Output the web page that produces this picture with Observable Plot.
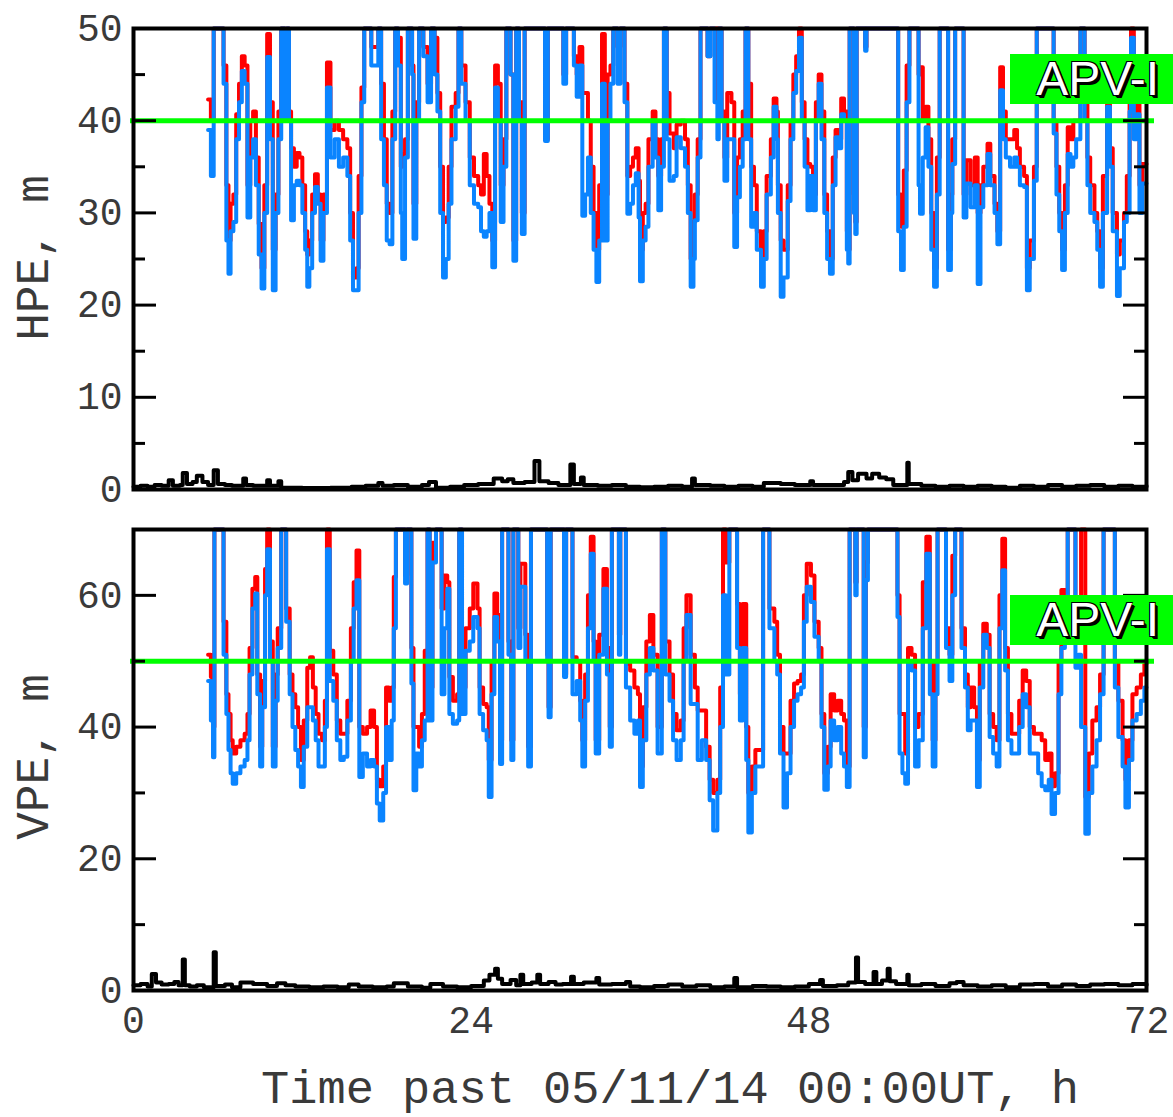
<!DOCTYPE html>
<html><head><meta charset="utf-8">
<script src="https://cdn.jsdelivr.net/npm/d3@7"></script>
<script src="https://cdn.jsdelivr.net/npm/@observablehq/plot@0.6"></script>
<style>
body{margin:0;background:#fff;}
#wrap{position:relative;width:1173px;height:1117px;overflow:hidden;background:#fff;}
.panel{position:absolute;left:0;}
.ylab{position:absolute;font-family:"Liberation Mono",monospace;font-size:46px;line-height:1;color:#3a3a3a;transform:translate(-50%,-50%) rotate(-90deg);white-space:nowrap;}
.xlab{position:absolute;font-family:"Liberation Mono",monospace;font-size:47px;line-height:1;color:#3a3a3a;transform:translate(-50%,-50%);white-space:nowrap;}
.apv{position:absolute;left:1010px;width:163px;height:50px;background:#00ff00;color:#fff;font-family:"Liberation Sans",Arial,sans-serif;font-size:48px;line-height:50px;text-align:right;padding-right:14px;box-sizing:border-box;text-shadow:-1px -1px 0 #000,1px -1px 0 #000,-1px 1px 0 #000,2px 2px 0 #000,3px 3px 0 #000;}
</style></head>
<body><div id="wrap"></div>
<script>
// ---- data: time (h), blue series, red series ----
const xTicks = [0, 24, 48, 72];
const hpeTicks = [0, 10, 20, 30, 40, 50];
const hpeMinor = [5, 15, 25, 35, 45];
const vpeTicks = [0, 20, 40, 60];
const vpeMinor = [10, 30, 50, 70];
const hpeLimit = 40;
const vpeLimit = 50;
const limitName = "APV-I";
const yLabels = ["HPE, m", "VPE, m"];
const xLabel = "Time past 05/11/14 00:00UT, h";

// HPE: [t, blue, red]
const hpeRows = [
[5.3,39,42.3],[5.5,34,40],[5.7,60,60],[6.4,44,46],[6.6,27,33],[6.75,23.4,27],[6.9,28,31],[7.1,29,32],
[7.3,38,40.7],[7.5,42,44],[7.7,45.4,47],[7.9,44,46],[8.1,29.5,33],[8.3,36,40],[8.5,38,41],[8.7,33,36],
[8.9,25.5,28.8],[9.1,21.8,24],[9.3,30,33],[9.5,46.9,49.4],[9.7,38,42],[9.9,21.6,26],[10.1,30,32],[10.3,38,41],
[10.5,60,60],[10.75,40,42],[10.9,60,60],[11.05,40,41],[11.2,29.2,37],[11.4,33,35],[11.6,33.5,36.5],[11.8,33,36],
[12.0,30,33],[12.2,26,28],[12.35,22,25.5],[12.5,24,27],[12.7,30,32],[12.9,32.8,34.2],[13.1,31,32],[13.3,24.8,27],
[13.5,30,32],[13.75,43.6,46.3],[14.0,36,39],[14.3,38,40],[14.6,35,39],[14.9,36,38],[15.2,34,37],[15.4,27,30],
[15.6,21.6,23],[15.85,21.6,24],[16.0,30,34],[16.2,42,43.6],[16.4,60,60],[16.9,46,48],[17.2,46,48],[17.4,60,60],
[17.6,38,44],[17.8,33,38],[18.0,27,31],[18.2,26.6,30],[18.4,38,41],[18.6,60,60],[18.8,46,49],[19.0,30,35],
[19.1,25,36.4],[19.3,36,38],[19.5,60,60],[19.8,45,46],[19.9,27.2,31],[20.1,40,42],[20.3,60,60],[20.6,47,48],
[20.9,42,44],[21.15,60,60],[21.4,45,49],[21.6,41,43],[21.8,30,35],[22.0,23,29],[22.2,25,29.5],[22.4,31,35],
[22.6,38,41.5],[22.9,41.5,43],[23.1,60,60],[23.3,44,46],[23.6,40,42],[23.9,33,36],[24.2,31,34],[24.5,30.6,33],
[24.7,28,32],[24.9,27.4,36.4],[25.1,28,34],[25.3,30,31],[25.5,24.1,27],[25.7,43.6,46],[25.9,40,44],[26.1,29,33],
[26.3,35,38],[26.5,60,60],[26.8,45,45],[27.0,24.8,27],[27.2,60,60],[27.4,40,42],[27.6,27.7,30],[27.8,60,60],
[29.25,37.8,38],[29.45,60,60],[30.55,44,45],[30.75,60,60],[31.3,46,47],[31.5,42.6,45],[31.7,46,48],[31.9,29.7,43],
[32.1,32,43],[32.3,36,40],[32.5,30,35],[32.7,26,30],[32.9,22.5,26],[33.1,27,33],[33.3,44,49.4],[33.5,27,32],
[33.7,40,45],[33.9,44,46],[34.1,60,60],[34.4,44,48],[34.6,60,60],[34.9,42,44],[35.1,29.9,34],[35.3,31,35],
[35.5,33,36],[35.7,34.3,37],[35.9,29.5,33.5],[36.0,22.6,26],[36.2,27,30],[36.4,28.5,31],[36.6,35,38],[36.9,40,41],
[37.1,36,38],[37.3,30.3,34],[37.5,35,38],[37.7,60,60],[37.9,38,43],[38.1,33.5,38.6],[38.4,34,37],[38.6,38.2,39.6],
[38.9,37,40],[39.2,35,38],[39.4,30,33],[39.6,22,25],[39.8,25,29],[39.9,29.2,32],[40.1,36,38],[40.3,60,60],
[40.8,47,47],[41.0,60,60],[41.3,42,60],[41.5,38,42],[41.6,60,60],[41.8,40,41],[42.0,33.5,36],[42.2,38,43],
[42.5,38,42],[42.7,26.3,30],[42.9,31.7,36],[43.1,35,38],[43.3,38,41],[43.5,60,60],[43.7,38,44],[43.9,28.5,35],
[44.1,30,33],[44.3,26,28],[44.6,22,25],[44.8,25,28],[45.0,32,34],[45.3,36,38],[45.5,41.5,42.4],[45.7,38,41],
[45.8,30,33],[46.0,20.9,27],[46.2,23,26],[46.5,31.3,33],[46.7,38,40],[46.9,43,45],[47.1,45.4,47],[47.3,49,50.5],
[47.5,40,42],[47.7,35,38],[47.9,30.3,35.3],[48.1,34,35],[48.3,30.3,32],[48.5,40,42],[48.7,44,45],[48.9,38,41],
[49.1,30,32],[49.3,25,28],[49.5,23.4,25],[49.7,33,36],[49.9,38.2,39],[50.1,37,38],[50.3,40.7,42.4],[50.5,40,41],
[50.7,26,28],[50.8,24.5,26],[50.9,60,60],[51.2,30,32],[51.3,27.7,29],[51.4,60,60],[52.0,47.6,48],[52.1,60,60],
[54.35,28,32],[54.55,23.8,28.5],[54.75,28.5,34.6],[54.95,42,46],[55.15,60,60],[55.8,33,45],[55.9,29.9,45.8],[56.1,36,40],
[56.3,39.3,41.5],[56.5,35,38],[56.7,26,30],[56.9,22,24],[57.1,32,36],[57.3,60,60],[57.9,23.8,26],[58.1,30,32],
[58.2,35.3,38],[58.4,60,60],[59.0,29.5,32],[59.2,33.2,35.7],[59.5,30.6,33],[59.8,33,36],[60.0,22.3,30],[60.2,30.6,33],
[60.4,33,35],[60.7,36.4,37.5],[60.9,33,34],[61.2,30,31],[61.4,26.6,28],[61.6,43.3,45.8],[61.8,38,41],[62.0,36,38],
[62.3,35,38],[62.6,36,39],[62.8,35,37],[63.0,33,35],[63.3,32.8,34],[63.5,21.6,24],[63.7,25,27],[64.0,33.5,35],
[64.2,60,60],[65.4,38.6,40],[65.6,32,35],[65.8,28,30],[66.0,23.8,26],[66.2,30,33],[66.4,36.4,39.3],[66.6,35,38],
[66.8,36,40],[67.0,38,40],[67.3,60,60],[67.6,40,42],[67.8,33,36],[68.0,30,33],[68.3,29,30],[68.5,26,28],
[68.7,22,24],[68.9,30,34],[69.2,41.5,43],[69.4,35,37],[69.6,28,30],[69.9,21,25.5],[70.1,24,27],[70.4,29,30],
[70.6,30,34],[70.8,41,43],[70.9,49,50],[71.1,38,40],[71.3,40.7,42],[71.5,30,33],[71.7,33.2,35.3],[72.0,33.2,35.3]
];

// HPE black: [t, value]
const hpeBlack = [
[0,0.3],[0.5,0.4],[1.0,0.3],[1.5,0.5],[2.0,0.4],[2.5,1.0],[2.8,0.4],[3.3,0.5],[3.5,1.8],[3.8,0.6],[4.2,0.8],
[4.5,1.5],[4.9,0.8],[5.3,0.5],[5.7,2.1],[6.0,0.6],[6.5,0.5],[7.0,0.4],[7.8,1.2],[8.0,0.5],[8.5,0.4],[9.5,1.0],
[9.7,0.4],[10.3,0.9],[10.5,0.2],[12,0.15],[14,0.2],[15.5,0.3],[16.5,0.4],[17.4,0.7],[17.7,0.4],[18.5,0.5],
[19.5,0.3],[20.5,0.5],[21.0,0.8],[21.5,0.2],[22.5,0.3],[23.5,0.5],[24.5,0.6],[25.6,1.2],[26.2,0.9],[26.6,1.1],
[27.0,0.7],[27.8,0.8],[28.5,3.1],[28.85,0.9],[29.5,0.7],[30.2,0.5],[31.05,2.7],[31.3,0.6],[31.8,1.3],[32.0,0.5],
[33,0.4],[34,0.5],[35,0.3],[36,0.25],[37,0.3],[38,0.4],[39.0,0.3],[39.7,1.2],[39.9,0.5],[41,0.4],[42,0.3],
[43,0.4],[44,0.3],[44.8,0.7],[46,0.6],[47,0.5],[48.1,0.9],[48.3,0.5],[49.5,0.5],[50.5,0.8],[50.8,1.9],[51.1,1.0],
[51.5,1.7],[52.1,1.2],[52.5,1.7],[53.0,1.3],[53.5,1.1],[54.0,0.5],[55.0,2.9],[55.1,0.6],[56,0.4],[57,0.3],
[58,0.4],[59,0.3],[60,0.4],[61,0.3],[62,0.2],[63,0.4],[64,0.3],[65,0.5],[66,0.3],[67,0.4],[68,0.5],[69,0.3],
[70,0.4],[71,0.3],[72,0.4]
];

// VPE: [t, blue, red]
const vpeRows = [
[5.3,47,51],[5.5,41,47.6],[5.65,35.4,40],[5.75,80,80],[6.4,51,56],[6.6,42,45],[6.75,36.5,42],[6.9,33,38],
[7.05,31.4,36],[7.3,33,37],[7.6,34,38],[7.9,35,39],[8.1,38,42],[8.25,48,52],[8.45,58,61],[8.65,60.3,62.8],
[8.8,45,48],[9.0,34,37],[9.15,43,47],[9.35,60,64],[9.5,67,80],[9.7,50,53],[9.9,34,37],[10.1,44,48],
[10.25,52,55],[10.5,80,80],[10.85,56,58],[11.1,45,48],[11.3,40,45],[11.5,36.5,43],[11.7,34,40],[11.9,30.9,35],
[12.1,37,41],[12.35,43,49],[12.55,43,50.6],[12.75,41,46],[12.95,38,42],[13.15,34,39],[13.4,34,38],[13.6,40,44],
[13.75,67,80],[13.95,47,51.6],[14.2,44,48],[14.45,38,41],[14.7,35,39],[14.95,35.5,39],[15.2,41,44],[15.45,50,55],
[15.65,58,62],[15.85,62.3,66.8],[16.05,32.4,40],[16.3,36,39],[16.6,34,40],[16.85,35,42.5],[17.1,34,40],[17.3,28.4,32],
[17.5,25.8,31],[17.75,30,34],[17.95,40,46],[18.15,35,44],[18.35,41,46],[18.5,55,62.8],[18.65,80,80],[19.3,61.8,63],
[19.45,80,80],[19.75,46.6,52],[19.9,30.4,40],[20.1,36,40],[20.3,34,37],[20.5,38,42],[20.7,41,51.6],[20.9,80,80],
[21.05,41,46],[21.25,65,68],[21.5,80,80],[21.9,45,58],[22.1,55,63],[22.3,61,62],[22.45,42,47.6],[22.7,40.5,44],
[23.0,41,45],[23.15,80,80],[23.35,42,46],[23.6,51.6,55],[23.9,53,58],[24.15,56.7,61.8],[24.45,55,58],[24.6,42,46],
[24.85,39.5,43.5],[25.1,38,43],[25.25,29.4,35],[25.45,45,50],[25.65,56.7,60.3],[25.85,53,57],[26.05,34.4,38],[26.2,80,80],
[26.65,51,53],[26.85,35,38],[27.0,80,80],[27.35,52,55],[27.5,61.3,64.8],[27.85,50,54],[28.05,34,37],[28.25,80,80],
[29.4,50,51],[29.5,41.5,43],[29.65,80,80],[30.6,47.6,48],[30.75,80,80],[31.2,45,50.6],[31.5,47,50],[31.75,41,44],
[31.9,34,38],[32.1,44,48],[32.3,55,60],[32.5,66.3,68.9],[32.7,50,53],[32.85,36,38],[33.1,51,54],[33.4,61,64],
[33.65,48,52],[33.85,37,40],[34.0,80,80],[34.5,51,54],[34.6,80,80],[35.0,46,49.6],[35.3,41,48.6],[35.6,39,46],
[35.85,41,45],[36.0,30.9,34],[36.2,38,43],[36.45,48,53],[36.7,52,57],[36.95,48.6,51],[37.25,36,40],[37.55,80,80],
[37.8,48,53],[38.1,44,48],[38.35,38,42],[38.6,35,39.5],[38.9,38,41],[39.1,50,55],[39.3,57,60],[39.6,43.5,51],
[39.9,43.5,46],[40.1,35,42.5],[40.4,38,42.5],[40.7,35,37],[40.95,28.9,32],[41.2,24.3,30],[41.5,30,32],[41.7,40,46],
[41.9,60,80],[42.1,48,65],[42.35,80,80],[42.9,52,58.7],[43.1,41,45],[43.3,52,58.7],[43.55,35,40],[43.7,24,30],
[43.95,30,34],[44.2,34,36.5],[44.5,34,36.5],[44.75,80,80],[45.2,55,58],[45.55,50,56],[45.75,48,51],[45.95,36,40],
[46.2,27.8,36],[46.45,33,36],[46.7,40,44],[46.95,44,46.6],[47.2,45,47],[47.45,46,48],[47.65,56,60],[47.85,61.3,64.8],
[48.15,59,63],[48.4,53.7,56],[48.7,50,52],[48.9,40,42],[49.1,30.5,33],[49.35,34,37],[49.55,41,45],[49.8,38,42.5],
[50.05,40,44],[50.3,36,42],[50.5,34,41],[50.7,30.9,34],[50.9,80,80],[51.3,60,62],[51.4,80,80],[51.9,35.4,40],
[52.05,62.3,65],[52.2,80,80],[54.3,56.7,60],[54.45,36,42],[54.65,33,42],[54.85,31.4,36],[55.05,50,52],[55.3,48.6,51],
[55.55,34,40],[55.8,38,42],[56.1,55,62],[56.35,66.3,68.9],[56.6,45,50],[56.8,34,38],[57.0,45,50],[57.15,80,80],
[57.75,52,55],[58.0,47,51],[58.2,60,66],[58.4,80,80],[58.85,52,55],[59.1,46,48],[59.3,39.5,43],[59.5,41,46],
[59.75,41,43],[59.95,30.9,35],[60.15,46,50],[60.4,54,55.7],[60.65,52,54],[60.85,38.5,42],[61.1,36,40],[61.35,34,38],
[61.55,55,60],[61.75,63.8,68.6],[61.95,48.6,52],[62.15,38,42],[62.4,36,39],[62.7,36,39],[62.95,40,44],[63.2,45,48.6],
[63.45,43,47],[63.7,36,40],[64.0,36,39],[64.3,33,39],[64.55,31,38],[64.8,30.4,35],[65.05,32,36],[65.25,26.8,31],
[65.5,30,33],[65.75,45,50],[65.95,52,60.8],[66.2,55,58],[66.4,80,80],[66.95,49,55],[67.15,51,54],[67.35,40,80],
[67.65,23.8,29.4],[67.9,30,36],[68.15,34,41],[68.45,38,43],[68.7,45,48],[68.95,80,80],[69.75,46,50],[70.0,38.5,44],
[70.3,34,38],[70.5,27.8,32],[70.75,35,38],[71.0,41,45],[71.3,42,46],[71.6,44,48],[71.85,46,49.6],[72.0,46,49.6]
];

// VPE black: [t, value]
const vpeBlack = [
[0,0.8],[0.5,1.0],[1.0,0.6],[1.3,2.5],[1.6,1.2],[2.0,0.9],[2.5,1.0],[2.9,1.3],[3.2,0.8],[3.5,4.7],[3.65,0.8],
[4.0,0.6],[4.5,0.8],[5.0,0.5],[5.7,5.8],[5.85,0.7],[6.5,0.9],[7.0,0.5],[7.6,1.2],[8.5,1.0],[9.5,0.7],[10.2,1.1],
[10.8,0.8],[11.5,0.6],[12.5,0.5],[13.5,0.6],[14.5,0.5],[15.3,0.9],[16.0,0.6],[17.0,0.5],[18.0,0.6],[18.5,1.1],
[19.5,0.6],[20.5,0.4],[21.1,1.0],[22.0,0.6],[23.0,0.5],[24.0,0.7],[24.9,1.5],[25.3,2.4],[25.7,3.3],[25.9,1.8],
[26.2,1.0],[26.8,1.6],[27.2,0.8],[27.5,2.4],[27.7,1.0],[28.3,1.2],[28.7,2.4],[28.9,1.0],[29.5,1.3],[30.0,0.9],
[30.5,1.0],[31.1,2.1],[31.3,1.0],[32.0,1.2],[32.9,1.9],[33.1,0.9],[34.0,1.0],[35.0,1.3],[35.3,0.6],[36.0,0.5],
[37.0,0.7],[38.0,0.9],[39.0,0.6],[40.0,0.8],[41.0,0.5],[42.0,0.6],[42.7,1.9],[42.9,0.5],[44.0,0.7],[45.0,0.6],
[46.0,0.5],[47.0,0.6],[48.0,1.0],[48.8,1.6],[49.0,0.7],[50.0,0.8],[50.8,1.2],[51.35,5.0],[51.5,1.3],[52.0,1.0],
[52.6,2.8],[52.8,1.0],[53.2,1.5],[53.6,3.3],[53.75,1.4],[54.2,1.0],[55.0,2.4],[55.1,0.8],[56.0,1.0],[57.0,0.7],
[58.0,1.1],[58.5,1.3],[59.0,0.8],[60.0,0.6],[61.0,0.8],[62.0,0.5],[63.0,0.9],[64.0,1.0],[65.0,0.6],[66.0,0.9],
[67.0,0.7],[68.0,0.9],[69.0,1.0],[70.0,0.8],[71.0,1.0],[72.0,0.8]
];

// ---- drawing ----
const W = 1173, ML = 133, MR = 27, PW = W - ML - MR;
const wrap = document.getElementById("wrap");

function makePanel({rows, black, yMax, ticks, minor, limit, height, marginTop, marginBottom, showX}) {
  const red = rows.map(r => ({t: r[0], v: r[2]}));
  const blue = rows.map(r => ({t: r[0], v: r[1]}));
  const blk = black.map(r => ({t: r[0], v: r[1]}));
  return Plot.plot({
    width: W, height, marginLeft: ML, marginRight: MR, marginTop, marginBottom,
    style: {fontFamily: '"Liberation Mono", monospace', fontSize: "38px", color: "#3a3a3a", background: "transparent", overflow: "visible"},
    x: {domain: [0, 72], ticks: xTicks, tickSize: 0, tickPadding: 16, label: null, axis: showX ? "bottom" : null},
    y: {domain: [0, yMax], clamp: true, ticks, tickSize: 0, tickPadding: 11, label: null},
    marks: [
      Plot.lineY(red, {x: "t", y: "v", curve: "step-after", stroke: "#ff0000", strokeWidth: 4}),
      Plot.lineY(blue, {x: "t", y: "v", curve: "step-after", stroke: "#0a84ff", strokeWidth: 4}),
      Plot.lineY(blk, {x: "t", y: "v", curve: "step-after", stroke: "#000", strokeWidth: 4}),
      Plot.ruleY([limit], {stroke: "#00ff00", strokeWidth: 5, insetLeft: -3, insetRight: -8}),
      Plot.ruleY(ticks, {stroke: "#000", strokeWidth: 3, insetRight: PW - 23}),
      Plot.ruleY(ticks, {stroke: "#000", strokeWidth: 3, insetLeft: PW - 23}),
      Plot.ruleY(minor, {stroke: "#000", strokeWidth: 3, insetRight: PW - 12}),
      Plot.ruleY(minor, {stroke: "#000", strokeWidth: 3, insetLeft: PW - 12}),
      Plot.frame({stroke: "#000", strokeWidth: 4})
    ]
  });
}

const panels = [
  {rows: hpeRows, black: hpeBlack, yMax: 50, ticks: hpeTicks, minor: hpeMinor, limit: hpeLimit,
   height: 510, marginTop: 28, marginBottom: 21, showX: false, top: 0, labelY: 258},
  {rows: vpeRows, black: vpeBlack, yMax: 70, ticks: vpeTicks, minor: vpeMinor, limit: vpeLimit,
   height: 607, marginTop: 19, marginBottom: 127, showX: true, top: 510, labelY: 757}
];

panels.forEach((p, i) => {
  const chart = makePanel(p);
  chart.classList.add("panel");
  chart.style.top = p.top + "px";
  wrap.appendChild(chart);
  const ly = document.createElement("div");
  ly.className = "ylab";
  ly.textContent = yLabels[i];
  ly.style.left = "36px";
  ly.style.top = p.labelY + "px";
  wrap.appendChild(ly);
  const yPix = chart.scale("y").apply(p.limit);
  const box = document.createElement("div");
  box.className = "apv";
  box.textContent = limitName;
  box.style.top = (p.top + yPix - 66) + "px";
  wrap.appendChild(box);
});

const xl = document.createElement("div");
xl.className = "xlab";
xl.textContent = xLabel;
xl.style.left = "670px";
xl.style.top = "1090px";
wrap.appendChild(xl);
</script>
</body></html>
